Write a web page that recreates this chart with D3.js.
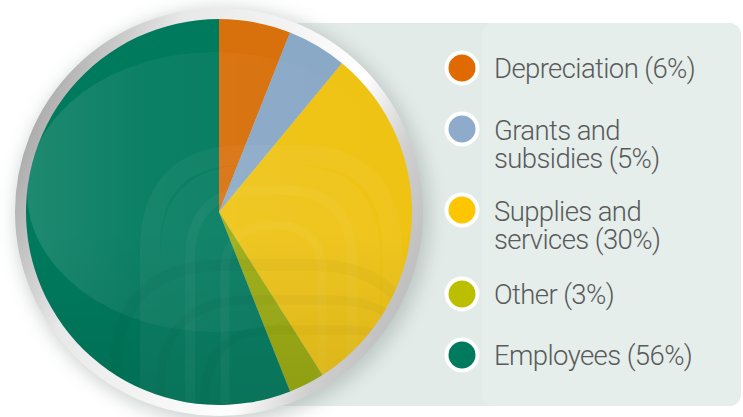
<!DOCTYPE html>
<html>
<head>
<meta charset="utf-8">
<script src="https://cdn.jsdelivr.net/npm/d3@7"></script>
<style>
  html, body { margin: 0; padding: 0; background: #ffffff; }
  svg { display: block; }
</style>
</head>
<body>
<svg id="chart" width="743" height="417"></svg>
<script>
// Expense categories, in clockwise order from 12 o'clock
const categories = ["Depreciation", "Grants and subsidies", "Supplies and services", "Other", "Employees"];
const shares = [6, 5, 30, 3, 56];
const legendLines = [
  ["Depreciation (6%)"],
  ["Grants and", "subsidies (5%)"],
  ["Supplies and", "services (30%)"],
  ["Other (3%)"],
  ["Employees (56%)"]
];
const sliceColors = ["#d8700b", "#8aa9c7", "#efc313", "#9aab0c", "#007a5d"];
const swatchColors = ["#e06a00", "#8eabcc", "#fdc600", "#bcbf00", "#007a5c"];

const svg = d3.select("#chart");
const W = 743, H = 417;
const cx = 219, cy = 212, R = 193;

const defs = svg.append("defs");

// Soft shadow around the disc
const blur = defs.append("filter").attr("id", "soft").attr("x", "-30%").attr("y", "-30%").attr("width", "160%").attr("height", "160%");
blur.append("feGaussianBlur").attr("stdDeviation", 9);

// Silver rim
const rim = defs.append("linearGradient").attr("id", "rim")
  .attr("x1", "0%").attr("y1", "30%").attr("x2", "100%").attr("y2", "70%");
[["0%", "#a8a8a8"], ["25%", "#e8e8e8"], ["50%", "#f4f4f4"], ["70%", "#ffffff"], ["85%", "#cfcfcf"], ["100%", "#bdbdbd"]]
  .forEach(([o, c]) => rim.append("stop").attr("offset", o).attr("stop-color", c));

// Glossy highlight on the upper-left of the disc
const gloss = defs.append("linearGradient").attr("id", "gloss")
  .attr("x1", "0%").attr("y1", "0%").attr("x2", "100%").attr("y2", "0%");
gloss.append("stop").attr("offset", "0%").attr("stop-color", "#ffffff").attr("stop-opacity", 0.12);
gloss.append("stop").attr("offset", "30%").attr("stop-color", "#ffffff").attr("stop-opacity", 0.05);
gloss.append("stop").attr("offset", "100%").attr("stop-color", "#ffffff").attr("stop-opacity", 0.0);

// Darkening toward the bottom of the disc
const shade = defs.append("linearGradient").attr("id", "shade")
  .attr("x1", "0%").attr("y1", "0%").attr("x2", "0%").attr("y2", "100%");
shade.append("stop").attr("offset", "55%").attr("stop-color", "#000").attr("stop-opacity", 0);
shade.append("stop").attr("offset", "100%").attr("stop-color", "#000").attr("stop-opacity", 0.1);

defs.append("clipPath").attr("id", "disc")
  .append("circle").attr("cx", cx).attr("cy", cy).attr("r", R);

// Legend panel
svg.append("rect")
  .attr("x", 200).attr("y", 23).attr("width", 541).attr("height", 383)
  .attr("rx", 12).attr("fill", "#e3ebe8");
svg.append("rect")
  .attr("x", 482).attr("y", 23).attr("width", 259).attr("height", 383)
  .attr("rx", 12).attr("fill", "#e5eeeb");

// Shadow cast by the disc
svg.append("circle")
  .attr("cx", cx + 4).attr("cy", cy + 4).attr("r", R + 14)
  .attr("fill", "#8f9c98").attr("opacity", 0.45)
  .attr("filter", "url(#soft)");

// Rim
svg.append("circle")
  .attr("cx", cx).attr("cy", cy).attr("r", R + 5)
  .attr("fill", "none").attr("stroke", "url(#rim)").attr("stroke-width", 12);

// Pie slices
const pie = d3.pie().sort(null).value(d => d)(shares);
const arc = d3.arc().innerRadius(0).outerRadius(R);
const g = svg.append("g").attr("transform", `translate(${cx},${cy})`);
g.selectAll("path.slice")
  .data(pie)
  .join("path")
  .attr("class", "slice")
  .attr("d", arc)
  .attr("fill", (d, i) => sliceColors[i]);

// Overlays clipped to the disc
const ov = svg.append("g").attr("clip-path", "url(#disc)");

// Gloss ellipse
ov.append("ellipse")
  .attr("cx", 215).attr("cy", 192).attr("rx", 188).attr("ry", 140)
  .attr("fill", "url(#gloss)");

// Arch watermark
function archPath(L, Rr, T, B, r) {
  return `M${L},${B} L${L},${T + r} Q${L},${T} ${L + r},${T} L${Rr - r},${T} Q${Rr},${T} ${Rr},${T + r} L${Rr},${B}`;
}
const archBands = [
  { L: 150, R: 392, T: 155, r: 95, w: 20, o: 0.045 },
  { L: 190, R: 352, T: 190, r: 70, w: 10, o: 0.04 },
  { L: 225, R: 322, T: 225, r: 48, w: 9, o: 0.04 }
];
archBands.forEach(a => {
  ov.append("path")
    .attr("d", archPath(a.L, a.R, a.T, 420, a.r))
    .attr("fill", "none").attr("stroke", "#ffffff")
    .attr("stroke-opacity", a.o).attr("stroke-width", a.w);
});
ov.append("path")
  .attr("d", archPath(160, 380, 165, 420, 90) + " Z")
  .attr("fill", "#ffffff").attr("fill-opacity", 0.04);
const lowArcs = [
  { L: 115, R: 420, T: 265, r: 110, w: 12, o: 0.025 },
  { L: 160, R: 420, T: 300, r: 90, w: 9, o: 0.025 },
  { L: 205, R: 420, T: 330, r: 70, w: 9, o: 0.025 }
];
lowArcs.forEach(a => {
  ov.append("path")
    .attr("d", archPath(a.L, a.R, a.T, 420, a.r))
    .attr("fill", "none").attr("stroke", "#000000")
    .attr("stroke-opacity", a.o).attr("stroke-width", a.w);
});

ov.append("rect").attr("x", 0).attr("y", 0).attr("width", 440).attr("height", H)
  .attr("fill", "url(#shade)");

// Legend
const rowY = [68, 129, 210, 294, 355];
const lg = svg.append("g");
categories.forEach((c, i) => {
  const row = lg.append("g").attr("transform", `translate(462,${rowY[i]})`);
  row.append("circle").attr("r", 17.5).attr("fill", "#ffffff");
  row.append("circle").attr("r", 13.5).attr("fill", swatchColors[i]);
  const lines = legendLines[i];
  const text = row.append("text")
    .attr("x", 32)
    .attr("font-family", "Roboto, 'Liberation Sans', sans-serif")
    .attr("font-weight", 300)
    .attr("font-size", 27.5)
    .attr("letter-spacing", -0.6)
    .attr("fill", "#5a5a5a");
  lines.forEach((t, j) => {
    text.append("tspan")
      .attr("x", 32)
      .attr("y", lines.length === 1 ? 10 : 11 + (j * 28))
      .text(t);
  });
});
</script>
</body>
</html>
